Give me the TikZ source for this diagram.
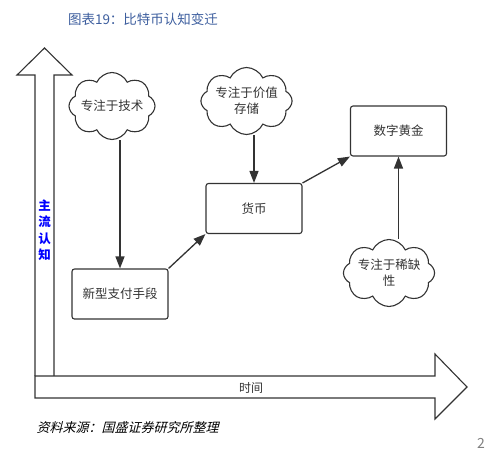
\documentclass[tikz,border=0pt]{standalone}
\usepackage{fontspec}
\setmainfont{Noto Sans CJK SC}
\newfontfamily\cjkfont{Noto Sans CJK SC}
\usetikzlibrary{shapes.symbols,arrows.meta}
\definecolor{linegray}{HTML}{333333}
\definecolor{titleblue}{HTML}{3D5E9E}

\begin{document}
\begin{tikzpicture}[x=1pt,y=-1pt]
    \tikzstyle{thought}=[cloud,cloud puffs=8,cloud puff arc=130,cloud ignores aspect,draw=linegray,line width=1.1pt,align=center,inner sep=0pt,minimum width=86pt,minimum height=67pt,font=\fontsize{12.5}{16}\selectfont,text=linegray]
    \tikzstyle{stage}=[draw=linegray,line width=1.1pt,rounded corners=2.5pt,minimum width=96pt,minimum height=50pt,font=\fontsize{12.5}{16}\selectfont,text=linegray]
    \tikzstyle{link}=[draw=linegray,line width=1.3pt,-{Triangle[length=12pt,width=9pt]}]
    \tikzstyle{axis}=[draw=linegray,line width=1.1pt,fill=white]
    \useasboundingbox (0,0) rectangle (486,451);
    % title
    \node[text=titleblue,font=\fontsize{13.5}{16}\selectfont] (title) at (143,19) {图表19：比特币认知变迁};
    % axes
    \draw[axis] (35,376) -- (35,75) -- (17,75) -- (44.5,48) -- (72,75) -- (54,75) -- (54,376);
    \draw[axis] (35,376) -- (435,376) -- (435,354) -- (467,387) -- (435,419) -- (435,398) -- (35,398) -- cycle;
    \node[text=blue,font=\bfseries\fontsize{12.5}{16.5}\selectfont,align=center] (view) at (44.5,230) {主\\流\\认\\知};
    \node[text=linegray,font=\fontsize{12}{14}\selectfont] (time) at (251,388) {时间};
    % clouds
    \node[thought] (tech) at (112,106) {专注于技术};
    \node[thought] (store) at (246.5,101) {专注于价值\\存储};
    \node[thought] (scarce) at (389,273) {专注于稀缺\\性};
    % stages
    \node[stage] (newpay) at (120,294) {新型支付手段};
    \node[stage] (money) at (254,208.5) {货币};
    \node[stage] (gold) at (398.5,131) {数字黄金};
    % links
    \draw[link] (newpay.north |- tech.south) -- (newpay.north);
    \draw[link] (money.north |- store.south) -- (money.north);
    \draw[link] (gold.south |- scarce.north) -- (gold.south);
    \draw[link] (newpay.north east) -- (money.south west);
    \draw[link] (money.north east) -- (gold.south west);
    % source
    \node[anchor=west,font=\fontsize{13}{15}\selectfont,text=black] (source) at (33,428) {\addfontfeature{FakeSlant=0.25}资料来源：国盛证券研究所整理};
    \node[anchor=east,text=gray,font=\fontsize{14}{16}\selectfont,inner sep=1pt] (page) at (486,443) {2};
\end{tikzpicture}
\end{document}
